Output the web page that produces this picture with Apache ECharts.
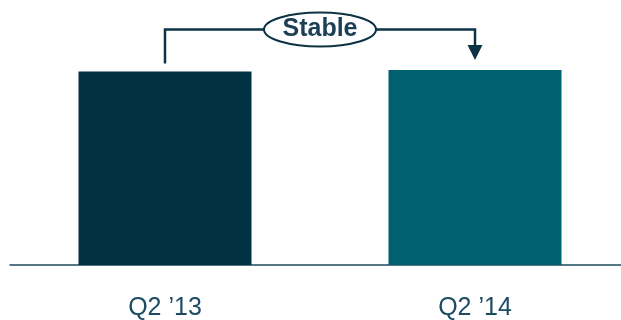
<!DOCTYPE html>
<html>
<head>
<meta charset="utf-8">
<script src="https://cdn.jsdelivr.net/npm/echarts@6/dist/echarts.min.js"></script>
<style>
  html, body { margin: 0; padding: 0; background: #fff; }
  #chart { width: 621px; height: 320px; }
</style>
</head>
<body>
<div id="chart"></div>
<script>
const categories = ["Q2 \u201913", "Q2 \u201914"];
const values = [193.5, 195];
const barColors = ["#033144", "#00606F"];
const annotationText = "Stable";

const lineColor = "#0B3344";
const chart = echarts.init(document.getElementById("chart"));

chart.setOption({
  animation: false,
  grid: { left: 10, right: -9, top: 0, bottom: 55, outerBoundsMode: "none", containLabel: false },
  xAxis: {
    type: "category",
    data: categories,
    axisLine: { lineStyle: { color: "#1D4A5E", width: 1.5 } },
    axisTick: { show: false },
    axisLabel: {
      margin: 31,
      fontFamily: "Liberation Sans",
      fontSize: 25,
      color: "#1D4B63"
    }
  },
  yAxis: { type: "value", min: 0, max: 265, show: false, splitLine: { show: false } },
  series: [{
    type: "bar",
    barWidth: 173,
    data: values.map((v, i) => ({ value: v, itemStyle: { color: barColors[i] } }))
  }]
});

// bracket annotation anchored to the bars
const x1 = chart.convertToPixel({ xAxisIndex: 0 }, categories[0]);
const x2 = chart.convertToPixel({ xAxisIndex: 0 }, categories[1]);
const top1 = chart.convertToPixel({ yAxisIndex: 0 }, values[0]);
const top2 = chart.convertToPixel({ yAxisIndex: 0 }, values[1]);
const yBracket = 29.5;
const midX = (x1 + x2) / 2;

chart.setOption({
  graphic: [
    {
      type: "polyline",
      shape: { points: [[x1, top1 - 8], [x1, yBracket], [x2, yBracket], [x2, top2 - 24]] },
      style: { stroke: lineColor, lineWidth: 2.5, fill: null }
    },
    {
      type: "polygon",
      shape: { points: [[x2 - 7.5, top2 - 25], [x2 + 7.5, top2 - 25], [x2, top2 - 10]] },
      style: { fill: lineColor }
    },
    {
      type: "ellipse",
      shape: { cx: midX, cy: yBracket, rx: 56, ry: 17 },
      style: { fill: "#fff", stroke: lineColor, lineWidth: 2 }
    },
    {
      type: "text",
      x: midX,
      y: yBracket,
      style: {
        text: annotationText,
        fontFamily: "Liberation Sans",
        fontWeight: "bold",
        fontSize: 25,
        fill: "#1B3F55",
        align: "center",
        verticalAlign: "middle"
      }
    }
  ]
});
</script>
</body>
</html>
